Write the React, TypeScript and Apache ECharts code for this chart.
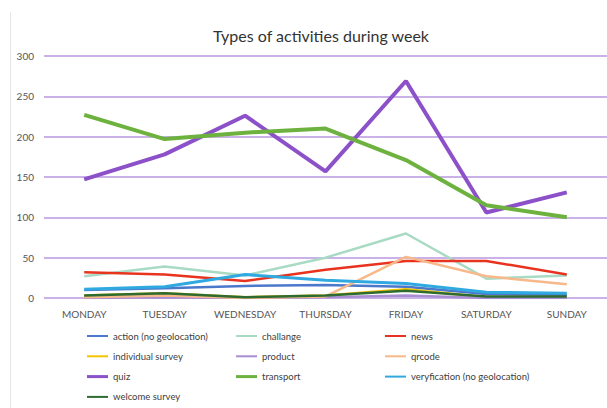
import React, { useEffect, useRef } from "react";
import * as echarts from "echarts";

const days = ["MONDAY", "TUESDAY", "WEDNESDAY", "THURSDAY", "FRIDAY", "SATURDAY", "SUNDAY"];

const actionNoGeo = [10, 12, 15, 16, 14, 5, 4];
const challange = [27, 39, 28, 50, 80, 24, 28];
const news = [32, 29, 21, 35, 46, 46, 29];
const individualSurvey = [3, 6, 1, 3, 11, 1, 1];
const product = [0, 1, 0, 1, 3, 0, 0];
const qrcode = [1, 3, 0, 2, 51, 27, 17];
const quiz = [147, 178, 226, 157, 269, 106, 131];
const transport = [227, 197, 205, 210, 171, 115, 100];
const verification = [11, 14, 29, 22, 18, 7, 6];
const welcomeSurvey = [3, 6, 1, 3, 9, 2, 2];

const yTicks = [0, 50, 100, 150, 200, 250, 300];

const seriesDefs = [
  { name: "action (no geolocation)", data: actionNoGeo, color: "#4C78CB", width: 2.5 },
  { name: "challange", data: challange, color: "#A9DAC4", width: 2.5 },
  { name: "news", data: news, color: "#E8331F", width: 2.5 },
  { name: "individual survey", data: individualSurvey, color: "#F5C400", width: 2.5 },
  { name: "product", data: product, color: "#A98FD2", width: 2.5 },
  { name: "qrcode", data: qrcode, color: "#F7B88A", width: 2.5 },
  { name: "quiz", data: quiz, color: "#8C50C8", width: 4 },
  { name: "transport", data: transport, color: "#6DB23F", width: 4 },
  { name: "veryfication (no geolocation)", data: verification, color: "#2FA9E0", width: 3 },
  { name: "welcome survey", data: welcomeSurvey, color: "#2E6B30", width: 2.5 },
];

const legendCols = [
  { left: 87, names: ["action (no geolocation)", "individual survey", "quiz", "welcome survey"] },
  { left: 236, names: ["challange", "product", "transport"] },
  { left: 385, names: ["news", "qrcode", "veryfication (no geolocation)"] },
];

const FONT = "Lato, 'Noto Sans', sans-serif";

export default function App() {
  const ref = useRef<HTMLDivElement>(null);
  useEffect(() => {
    if (!ref.current) return;
    const chart = echarts.init(ref.current, undefined, { renderer: "svg" });
    const iconFor = (name: string) => {
      const s = seriesDefs.find((d) => d.name === name)!;
      return s.width >= 4 ? "path://M0,0h21v3h-21z" : "path://M0,0h21v2h-21z";
    };
    chart.setOption({
      animation: false,
      backgroundColor: "#ffffff",
      title: {
        text: "Types of activities during week",
        left: 316,
        textAlign: "center",
        top: 22,
        textStyle: { fontFamily: FONT, fontSize: 16, fontWeight: "normal", color: "#333333" },
      },
      graphic: [
        {
          type: "line",
          shape: { x1: 10.5, y1: 12, x2: 10.5, y2: 408 },
          style: { stroke: "#e6e6e6", lineWidth: 1 },
        },
      ],
      grid: { left: 44, right: -9, top: 56, height: 242, containLabel: false },
      xAxis: {
        type: "category",
        data: days,
        boundaryGap: true,
        axisLine: { show: false },
        axisTick: { show: false },
        axisLabel: { color: "#555555", fontSize: 10, fontFamily: FONT, margin: 11, interval: 0 },
      },
      yAxis: {
        type: "value",
        min: 0,
        max: 300,
        interval: 50,
        axisLine: { show: false },
        axisTick: { show: false },
        axisLabel: {
          color: "#555555",
          fontSize: 10,
          fontFamily: FONT,
          margin: 10,
          formatter: (v: number) => (yTicks.includes(v) ? String(v) : ""),
        },
        splitLine: { lineStyle: { color: "#B899E2", width: 1.5 } },
      },
      legend: legendCols.map((c) => ({
        orient: "vertical",
        left: c.left,
        top: 331,
        padding: 0,
        itemGap: 10.3,
        itemWidth: 21,
        itemHeight: 10,
        textStyle: { fontFamily: FONT, fontSize: 9.5, color: "#404040" },
        data: c.names.map((n) => ({ name: n, icon: iconFor(n) })),
      })),
      series: seriesDefs.map((s) => ({
        name: s.name,
        type: "line",
        data: s.data,
        symbol: "none",
        showSymbol: false,
        color: s.color,
        lineStyle: { color: s.color, width: s.width },
        itemStyle: { color: s.color },
      })),
    });
    return () => chart.dispose();
  }, []);
  return <div ref={ref} style={{ width: 607, height: 408, position: "absolute", left: 0, top: 0 }} />;
}
